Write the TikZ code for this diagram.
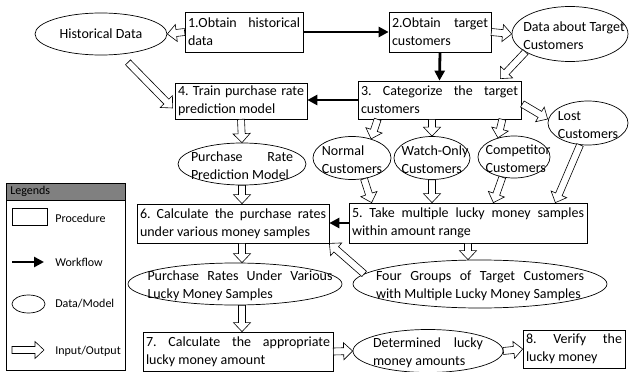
\documentclass[tikz,border=0pt]{standalone}
\usepackage{fontspec}
\setmainfont{Carlito}
\usetikzlibrary{arrows.meta,shapes.geometric,calc}

\frenchspacing
\hyphenpenalty=10000
\exhyphenpenalty=10000

\definecolor{legendgray}{RGB}{128,128,128}

\tikzset{
    proc/.style={draw, rectangle, line width=0.7pt, inner xsep=3pt, inner ysep=1pt,
        align=justify, font=\fontsize{14}{18}\selectfont},
    data/.style={draw, ellipse, line width=0.7pt, inner sep=0pt},
    datatext/.style={inner sep=0pt, yshift=-2pt, font=\fontsize{14}{18}\selectfont},
    lgtext/.style={inner sep=0pt, anchor=west, font=\fontsize{12}{14}\selectfont},
    flow/.style={line width=2.8pt, -{Triangle[length=10pt,width=10pt]}},
    io/.style={draw, fill=white, line width=0.6pt, line join=miter,
        to path={let \p1=(\tikztostart), \p2=(\tikztotarget),
            \n1={atan2(\y2-\y1,\x2-\x1)}, \n2={veclen(\x2-\x1,\y2-\y1)} in
            ([shift={(\p1)},rotate=\n1]0pt,3.5pt)
            -- ([shift={(\p1)},rotate=\n1]{\n2-9pt},3.5pt)
            -- ([shift={(\p1)},rotate=\n1]{\n2-9pt},8.5pt)
            -- ([shift={(\p1)},rotate=\n1]{\n2},0pt)
            -- ([shift={(\p1)},rotate=\n1]{\n2-9pt},-8.5pt)
            -- ([shift={(\p1)},rotate=\n1]{\n2-9pt},-3.5pt)
            -- ([shift={(\p1)},rotate=\n1]0pt,-3.5pt) -- cycle}}
}

\begin{document}
\begin{tikzpicture}[x=1pt, y=-1pt]
        \useasboundingbox (0,0) rectangle (630,372);

        \node[proc, text width=112pt, minimum height=40pt] (b1) at (244,32) {1.Obtain historical\linebreak data};
        \node[proc, text width=96pt, minimum height=40pt] (b2) at (440,32) {2.Obtain target\linebreak customers};
        \node[proc, text width=157pt, minimum height=38pt] (b3) at (439.5,100) {3. Categorize the target\linebreak customers};
        \node[proc, text width=126pt, minimum height=36pt] (b4) at (241,101) {4. Train purchase rate\linebreak prediction model};
        \node[proc, text width=232pt, minimum height=40pt] (b5) at (468,223) {5. Take multiple lucky money samples\linebreak within amount range};
        \node[proc, text width=186pt, minimum height=39pt] (b6) at (233,223.5) {6. Calculate the purchase rates\linebreak under various money samples};
        \node[proc, text width=184pt, minimum height=39pt] (b7) at (238,351.5) {7. Calculate the appropriate\linebreak lucky money amount};
        \node[proc, text width=96pt, minimum height=38pt] (b8) at (574,349) {8. Verify the\linebreak lucky money};

        \node[data, minimum width=132pt, minimum height=42pt,
            label={[datatext, yshift=2pt]center:Historical Data}] (hist) at (101,34) {};
        \node[data, minimum width=116pt, minimum height=55pt,
            label={[datatext, align=left, xshift=4pt]center:Data about Target\\Customers}] (dtc) at (570,34) {};
        \node[data, minimum width=128pt, minimum height=42pt,
            label={[datatext, text width=102pt, align=justify]center:Purchase Rate\linebreak Prediction Model}] (model) at (242,164) {};
        \node[data, minimum width=78pt, minimum height=43pt,
            label={[datatext, align=left]center:Normal\\Customers}] (normal) at (352,158) {};
        \node[data, minimum width=76pt, minimum height=43pt,
            label={[datatext, align=left, xshift=3pt]center:Watch-Only\\Customers}] (watch) at (432,158) {};
        \node[data, minimum width=72pt, minimum height=42pt,
            label={[datatext, align=left, xshift=4pt]center:Competitor\\Customers}] (comp) at (514,157) {};
        \node[data, minimum width=80pt, minimum height=44pt,
            label={[datatext, align=left]center:Lost\\Customers}] (lost) at (588,123) {};
        \node[data, minimum width=214pt, minimum height=42pt,
            label={[datatext, text width=185pt, align=justify, xshift=5pt]center:Purchase Rates Under Various\linebreak Lucky Money Samples}] (prs) at (235,284) {};
        \node[data, minimum width=254pt, minimum height=48pt,
            label={[datatext, text width=208pt, align=justify]center:Four Groups of Target Customers\linebreak with Multiple Lucky Money Samples}] (four) at (480,284) {};
        \node[data, minimum width=150pt, minimum height=43pt,
            label={[datatext, text width=110pt, align=justify]center:Determined lucky\linebreak money amounts}] (det) at (428,351) {};

        \draw[flow] (b1.east) -- (b2.west);
        \draw[flow] (b2.south) -- (b3.north);
        \draw[flow] (b3.west) -- (b3.west -| b4.east);
        \draw[flow] (b5.west) -- (b5.west -| b6.east);

        \draw[io] (b1.west) to (hist.east);
        \draw[io] (b2.east) to (dtc.west);
        \draw[io] (dtc.202) to ([shift={(-21,-2)}]b3.north east);
        \draw[io] ([shift={(27,7)}]hist.south) to ([shift={(-2,7)}]b4.west);
        \draw[io] (b4.south) to (model.north);
        \draw[io] ([shift={(20,0)}]b3.south west) to (normal.45);
        \draw[io] (watch.north |- b3.south) to (watch.north);
        \draw[io] ([shift={(-19,0)}]b3.south east) to (comp.130);
        \draw[io] ([shift={(1,4)}]b3.east) to ([shift={(0,-4)}]lost.west);
        \draw[io] (normal.-60) to ([shift={(23,0)}]b5.north west);
        \draw[io] (watch.south) to (watch.south |- b5.north);
        \draw[io] (comp.-120) to ([shift={(-94,0)}]b5.north east);
        \draw[io] (lost.-110) to ([shift={(-32,0)}]b5.north east);
        \draw[io] (model.south) to (model.south |- b6.north);
        \draw[io] (b5.south) to (b5.south |- four.north);
        \draw[io] (four.175) to (b6.south east);
        \draw[io] (model.south |- b6.south) to (model.south |- prs.north);
        \draw[io] (model.south |- prs.south) to (model.south |- b7.north);
        \draw[io] (b7.east) to (det.west);
        \draw[io] (det.east) to (b8.west);

        \begin{scope}[line width=0.7pt]
            \draw[fill=legendgray] (6,183) rectangle (125,200);
            \draw (6,200) rectangle (125,370);
            \node[lgtext] (lgtitle) at (10,191.5) {Legends};
            \node[draw, minimum width=35pt, minimum height=17pt] (lgproc) at (29.5,216.5) {};
            \node[lgtext] (lgproctext) at (55,218) {Procedure};
            \coordinate (lgflowa) at (12,262);
            \coordinate (lgflowb) at (44,262);
            \draw[flow] (lgflowa) -- (lgflowb);
            \node[lgtext] (lgflowtext) at (55,262) {Workflow};
            \node[data, minimum width=33pt, minimum height=18pt] (lgdata) at (28.5,304) {};
            \node[lgtext] (lgdatatext) at (55,304) {Data/Model};
            \coordinate (lgioa) at (12,350);
            \coordinate (lgiob) at (44,350);
            \draw[io] (lgioa) to (lgiob);
            \node[lgtext] (lgiotext) at (55,351) {Input/Output};
        \end{scope}
    \end{tikzpicture}
\end{document}
